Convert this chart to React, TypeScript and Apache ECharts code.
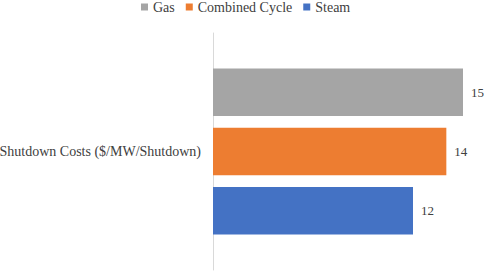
import React, { useEffect, useRef } from "react";
import * as echarts from "echarts";

const categories = ["Shutdown Costs ($/MW/Shutdown)"];
const seriesNames = ["Gas", "Combined Cycle", "Steam"];
const gasValues = [15];
const combinedCycleValues = [14];
const steamValues = [12];
const colors = ["#A5A5A5", "#ED7D31", "#4472C4"];

const FONT = "'Liberation Serif', serif";

export default function App() {
  const ref = useRef<HTMLDivElement>(null);
  useEffect(() => {
    if (!ref.current) return;
    const chart = echarts.init(ref.current, undefined, { renderer: "svg" });
    const data = [gasValues, combinedCycleValues, steamValues];
    chart.setOption({
      animation: false,
      textStyle: { fontFamily: FONT },
      legend: {
        top: 0,
        left: 141,
        padding: 0,
        itemWidth: 7,
        itemHeight: 7,
        itemGap: 11,
        icon: "rect",
        textStyle: { fontFamily: FONT, fontSize: 14, lineHeight: 14, color: "#404040" },
        data: seriesNames,
      },
      grid: {
        left: 213,
        right: 21,
        top: 33,
        bottom: 2,
        containLabel: false,
        outerBoundsMode: "none",
      },
      xAxis: {
        type: "value",
        min: 0,
        max: 15,
        show: false,
      },
      yAxis: {
        type: "category",
        data: categories,
        inverse: true,
        axisLine: { show: true, lineStyle: { color: "#D9D9D9", width: 1 } },
        axisTick: { show: false },
        axisLabel: { fontFamily: FONT, fontSize: 14, color: "#404040", margin: 12 },
      },
      series: seriesNames.map((name, i) => ({
        name,
        type: "bar",
        data: data[i],
        itemStyle: { color: colors[i] },
        barGap: "25%",
        barCategoryGap: "30%",
        label: {
          show: true,
          position: "right",
          distance: 8,
          fontFamily: FONT,
          fontSize: 13,
          color: "#404040",
        },
      })),
    });
    return () => chart.dispose();
  }, []);
  return (
    <div
      ref={ref}
      style={{ position: "absolute", left: 0, top: 0, width: 484, height: 272 }}
    />
  );
}
